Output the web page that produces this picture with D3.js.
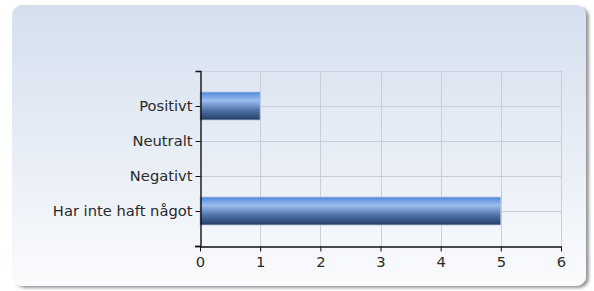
<!DOCTYPE html>
<html>
<head>
<meta charset="utf-8">
<script src="https://cdn.jsdelivr.net/npm/d3@7"></script>
<style>
  body { margin: 0; background: #fff; }
  svg { display: block; }
</style>
</head>
<body>
<svg></svg>
<script>
const width = 594;
const height = 291;

// data
const categories = ["Positivt", "Neutralt", "Negativt", "Har inte haft något"];
const values = [1, 0, 0, 5];
const xTicks = [0, 1, 2, 3, 4, 5, 6];

const svg = d3.select("svg")
  .attr("width", width)
  .attr("height", height)
  .attr("viewBox", [0, 0, width, height]);

const defs = svg.append("defs");

const bg = defs.append("linearGradient")
  .attr("id", "bg")
  .attr("x1", 0).attr("y1", 0).attr("x2", 0).attr("y2", 1);
bg.append("stop").attr("offset", "0%").attr("stop-color", "#d4dfee");
bg.append("stop").attr("offset", "100%").attr("stop-color", "#fafbfd");

const barGrad = defs.append("linearGradient")
  .attr("id", "bar")
  .attr("x1", 0).attr("y1", 0).attr("x2", 0).attr("y2", 1);
barGrad.append("stop").attr("offset", "0%").attr("stop-color", "#4f86dc");
barGrad.append("stop").attr("offset", "30%").attr("stop-color", "#9cbdef");
barGrad.append("stop").attr("offset", "65%").attr("stop-color", "#4f72a8");
barGrad.append("stop").attr("offset", "100%").attr("stop-color", "#223d63");

const shadow = defs.append("filter").attr("id", "shadow")
  .attr("x", "-5%").attr("y", "-5%").attr("width", "115%").attr("height", "115%");
shadow.append("feDropShadow")
  .attr("dx", 3).attr("dy", 2).attr("stdDeviation", 1.5)
  .attr("flood-color", "#000").attr("flood-opacity", 0.4);

// panel
svg.append("rect")
  .attr("x", 12).attr("y", 5)
  .attr("width", 574).attr("height", 281)
  .attr("rx", 10).attr("ry", 10)
  .attr("fill", "url(#bg)")
  .attr("filter", "url(#shadow)");

const x = d3.scaleLinear().domain([0, 6]).range([200, 561]);
const y = d3.scalePoint().domain(categories).range([71, 246]).padding(1);
const barH = 28;

const grid = svg.append("g").attr("stroke", "#c9ced8").attr("stroke-width", 1);

// vertical gridlines
grid.selectAll(".vg")
  .data(xTicks.slice(1))
  .join("line")
  .attr("x1", d => Math.round(x(d)) + 0.5)
  .attr("x2", d => Math.round(x(d)) + 0.5)
  .attr("y1", 71)
  .attr("y2", 246);

// horizontal gridlines (top + each category)
grid.selectAll(".hg")
  .data([null].concat(categories))
  .join("line")
  .attr("x1", 200)
  .attr("x2", 561)
  .attr("y1", d => d === null ? 71.5 : Math.round(y(d)) + 0.5)
  .attr("y2", d => d === null ? 71.5 : Math.round(y(d)) + 0.5);

// bars
svg.append("g")
  .selectAll("rect")
  .data(categories.map((c, i) => ({ c, v: values[i] })).filter(d => d.v > 0))
  .join("rect")
  .attr("x", x(0))
  .attr("y", d => y(d.c) - barH / 2)
  .attr("width", d => x(d.v) - x(0))
  .attr("height", barH)
  .attr("fill", "url(#bar)")
  .attr("stroke", "#b9c6d8")
  .attr("stroke-width", 0.8);

const font = "DejaVu Sans, Verdana, sans-serif";

// y axis
const yAxis = svg.append("g")
  .attr("transform", "translate(200.5,0)")
  .call(d3.axisLeft(y).tickSize(5).tickPadding(3).tickSizeOuter(5));
yAxis.attr("font-size", null).attr("font-family", null);
yAxis.select(".domain").attr("stroke", "#111").attr("stroke-width", 1.4);
yAxis.selectAll(".tick line").attr("stroke", "#111");
yAxis.selectAll("text")
  .attr("fill", "#2a2a2a")
  .attr("font-family", font)
  .attr("font-size", 14.7);

// x axis
const xAxis = svg.append("g")
  .attr("transform", "translate(0,246.5)")
  .call(d3.axisBottom(x).tickValues(xTicks).tickFormat(d3.format("d")).tickSize(5).tickPadding(5).tickSizeOuter(0));
xAxis.attr("font-size", null).attr("font-family", null);
xAxis.select(".domain").attr("stroke", "#111").attr("stroke-width", 1.4);
xAxis.selectAll(".tick line").attr("stroke", "#111");
xAxis.selectAll("text")
  .attr("fill", "#2a2a2a")
  .attr("font-family", font)
  .attr("font-size", 14.7);

// left end of x axis line extends past y axis
svg.append("line")
  .attr("x1", 195).attr("x2", 201)
  .attr("y1", 246.5).attr("y2", 246.5)
  .attr("stroke", "#111").attr("stroke-width", 1.4);
</script>
</body>
</html>
